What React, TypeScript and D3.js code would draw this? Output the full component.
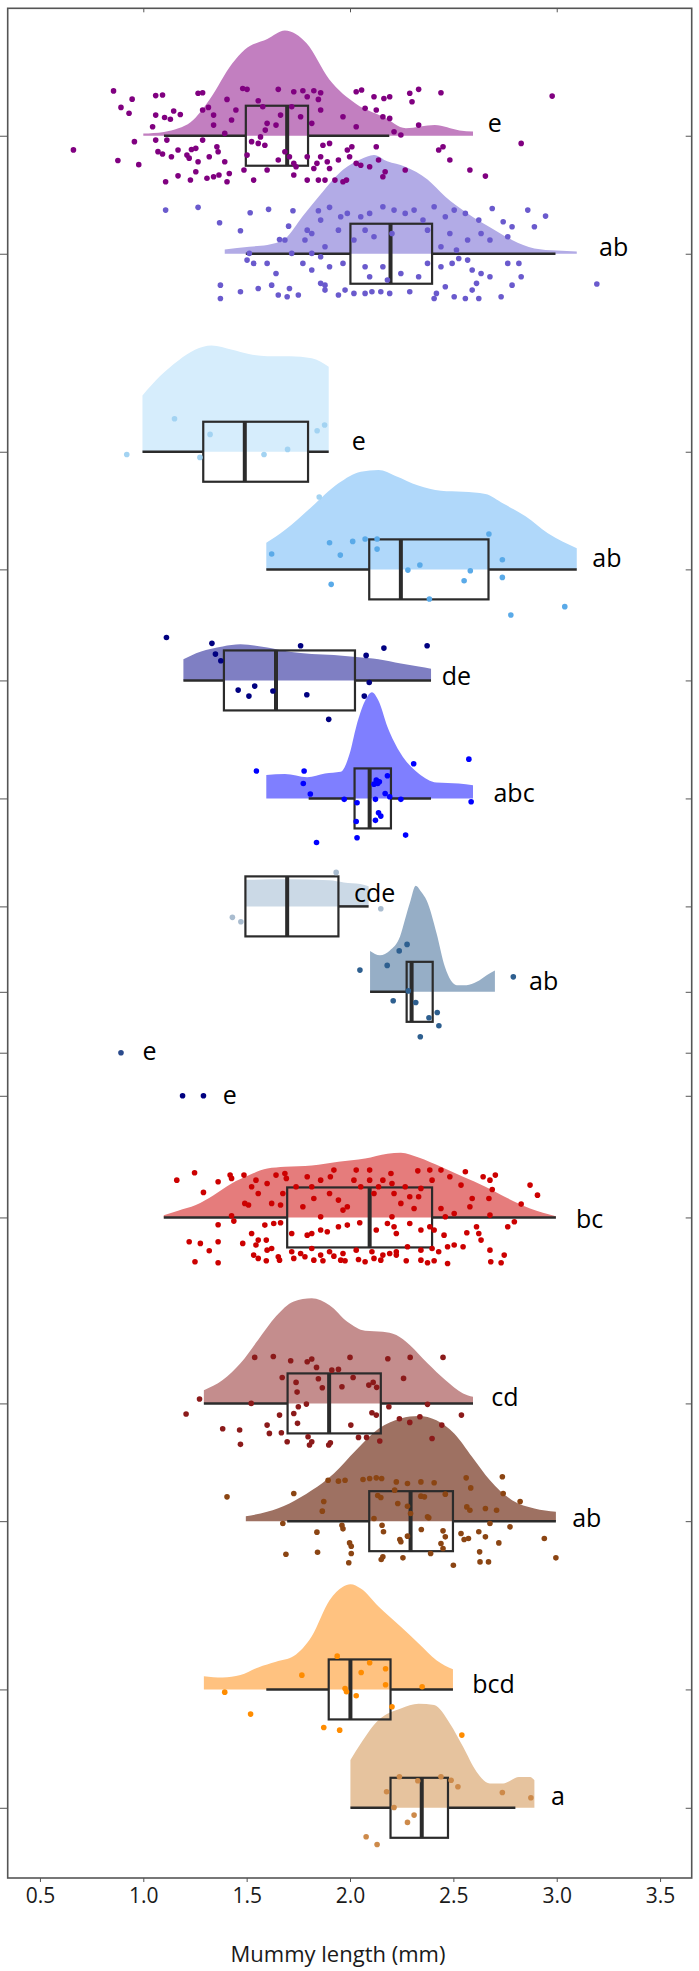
import * as d3 from "d3";
import { useEffect, useRef } from "react";

// group baselines on the (unlabelled) y axis, top to bottom
const groupPos = [0, 1.0, 2.678, 3.675, 4.616, 5.616, 6.531, 7.255, 7.771, 8.136, 9.167, 10.743, 11.741, 13.167, 14.17];
const groupLetters = ["e", "ab", "e", "ab", "de", "abc", "cde", "ab", "e", "e", "bc", "cd", "ab", "bcd", "a"];
const letterX = [2.666, 3.205, 2.009, 3.172, 2.444, 2.694, 2.019, 2.866, 0.996, 1.384, 3.093, 2.683, 3.075, 2.591, 2.972];
const letterDy = [-0.119, -0.065, -0.099, -0.102, -0.045, -0.057, -0.125, -0.099, -0.023, -0.012, 0.008, -0.062, -0.036, -0.057, -0.108];

const cloudColors = ["#c27fc0", "#b2abe6", "#d6edfc", "#b0d8fa", "#7f7fc3", "#7f7fff", "#cbd9e6", "#96aec6", "none", "none", "#e57c7c", "#c48d8d", "#9e7162", "#ffc280", "#e6c39e"];
const dotColors = ["#800080", "#6a5acd", "#a3d3f2", "#5aaae8", "#000080", "#0000ff", "#a9bccf", "#2e5f8f", "#2a4a8c", "#000080", "#cc0000", "#8b1a1a", "#8b4513", "#ff8c00", "#cd8a4a"];

// box stats: q1, median, q3, lower whisker, upper whisker
const q1s = [1.496, 2.002, 1.29, 2.093, 1.39, 2.022, 1.494, 2.274, NaN, NaN, 1.696, 1.698, 2.093, 1.897, 2.196];
const medians = [1.696, 2.196, 1.491, 2.246, 1.642, 2.095, 1.696, 2.298, NaN, NaN, 2.095, 1.899, 2.293, 2.002, 2.347];
const q3s = [1.797, 2.397, 1.797, 2.67, 2.024, 2.198, 1.944, 2.4, NaN, NaN, 2.397, 2.149, 2.498, 2.196, 2.474];
const whiskLo = [1.1, 1.496, 0.996, 1.595, 1.194, 1.8, 1.494, 2.097, NaN, NaN, 1.099, 1.293, 1.696, 1.595, 2.002];
const whiskHi = [2.19, 2.994, 1.897, 3.097, 2.392, 2.392, 2.09, 2.4, NaN, NaN, 2.996, 2.595, 2.996, 2.498, 2.8];

// half-violin densities: [length, relative density]
const dens1 = [[1.0, 0.02], [1.1, 0.035], [1.17, 0.07], [1.23, 0.13], [1.32, 0.34], [1.43, 0.68], [1.49, 0.81], [1.6, 0.91], [1.685, 0.99], [1.79, 0.87], [1.9, 0.53], [2.03, 0.3], [2.16, 0.18], [2.27, 0.07], [2.41, 0.1], [2.53, 0.05], [2.595, 0.04]];
const dens2 = [[1.394, 0.04], [1.513, 0.066], [1.6, 0.082], [1.685, 0.14], [1.77, 0.35], [1.858, 0.56], [1.966, 0.79], [2.052, 0.89], [2.116, 0.93], [2.18, 0.87], [2.267, 0.82], [2.375, 0.7], [2.46, 0.54], [2.569, 0.38], [2.677, 0.25], [2.784, 0.13], [2.892, 0.05], [3.0, 0.03], [3.097, 0.02]];
const dens3 = [[0.996, 0.53], [1.08, 0.71], [1.17, 0.86], [1.25, 0.96], [1.33, 1.0], [1.43, 0.96], [1.51, 0.92], [1.6, 0.9], [1.71, 0.9], [1.815, 0.88], [1.897, 0.8]];
const dens4 = [[1.595, 0.25], [1.685, 0.37], [1.815, 0.59], [1.944, 0.81], [2.052, 0.92], [2.138, 0.935], [2.22, 0.88], [2.33, 0.79], [2.44, 0.74], [2.547, 0.73], [2.655, 0.71], [2.741, 0.62], [2.849, 0.5], [2.957, 0.34], [3.03, 0.26], [3.097, 0.2]];
const dens5 = [[1.194, 0.2], [1.276, 0.27], [1.384, 0.32], [1.47, 0.34], [1.6, 0.31], [1.707, 0.27], [1.815, 0.25], [1.922, 0.24], [2.03, 0.22], [2.138, 0.2], [2.246, 0.16], [2.332, 0.13], [2.392, 0.11]];
const dens6 = [[1.595, 0.22], [1.685, 0.23], [1.793, 0.2], [1.879, 0.235], [1.955, 0.25], [1.998, 0.42], [2.03, 0.675], [2.073, 0.92], [2.106, 1.0], [2.138, 0.92], [2.181, 0.675], [2.246, 0.42], [2.332, 0.235], [2.418, 0.15], [2.526, 0.14], [2.595, 0.125]];
const dens7 = [[1.494, 0.25], [1.7, 0.255], [1.9, 0.245], [1.97, 0.225], [2.05, 0.21], [2.09, 0.19]];
const dens8 = [[2.097, 0.385], [2.145, 0.345], [2.193, 0.39], [2.242, 0.52], [2.266, 0.68], [2.29, 0.84], [2.318, 1.0], [2.345, 0.94], [2.371, 0.86], [2.419, 0.55], [2.459, 0.235], [2.516, 0.063], [2.564, 0.063], [2.613, 0.094], [2.661, 0.157], [2.701, 0.2]];
const dens11 = [[1.099, 0.02], [1.168, 0.063], [1.254, 0.116], [1.34, 0.21], [1.427, 0.32], [1.513, 0.4], [1.6, 0.46], [1.685, 0.477], [1.815, 0.49], [1.944, 0.525], [2.073, 0.555], [2.181, 0.6], [2.246, 0.61], [2.332, 0.565], [2.44, 0.477], [2.547, 0.383], [2.655, 0.29], [2.763, 0.18], [2.871, 0.085], [2.996, 0.012]];
const dens12 = [[1.293, 0.125], [1.384, 0.22], [1.47, 0.377], [1.556, 0.6], [1.642, 0.82], [1.728, 0.96], [1.815, 0.99], [1.901, 0.925], [1.987, 0.77], [2.073, 0.685], [2.159, 0.675], [2.224, 0.643], [2.289, 0.55], [2.375, 0.377], [2.461, 0.22], [2.547, 0.094], [2.595, 0.063]];
const dens13 = [[1.496, 0.047], [1.599, 0.088], [1.707, 0.167], [1.815, 0.29], [1.922, 0.45], [2.03, 0.67], [2.138, 0.87], [2.246, 0.967], [2.332, 0.99], [2.418, 0.95], [2.504, 0.826], [2.591, 0.605], [2.677, 0.386], [2.784, 0.198], [2.892, 0.12], [2.996, 0.088]];
const dens14 = [[1.293, 0.125], [1.384, 0.113], [1.47, 0.135], [1.556, 0.207], [1.642, 0.26], [1.728, 0.314], [1.815, 0.5], [1.901, 0.84], [1.966, 0.967], [2.002, 0.99], [2.052, 0.95], [2.138, 0.78], [2.246, 0.59], [2.332, 0.433], [2.418, 0.276], [2.498, 0.19]];
const dens15 = [[2.002, 0.45], [2.052, 0.605], [2.138, 0.826], [2.246, 0.935], [2.332, 0.98], [2.407, 0.967], [2.483, 0.794], [2.547, 0.574], [2.612, 0.34], [2.677, 0.229], [2.741, 0.229], [2.817, 0.29], [2.871, 0.29], [2.892, 0.26]];

// jittered raw points: [length, vertical jitter]
const pts1 = [[0.856, -0.38], [0.946, -0.31], [1.06, -0.34], [1.093, -0.345], [0.892, -0.24], [0.931, -0.19], [1.06, -0.175], [1.103, -0.155], [1.131, -0.14], [1.147, -0.21], [1.179, -0.18], [1.045, -0.076], [0.957, 0.05], [0.662, 0.12], [0.877, 0.21], [0.978, 0.245], [1.071, 0.135], [1.093, 0.155], [1.114, 0.037], [1.108, 0.39], [1.168, 0.34], [1.228, 0.375], [1.254, 0.305], [1.265, 0.22], [1.233, 0.116], [1.254, 0.107], [1.222, 0.19], [1.308, 0.36], [1.34, 0.347], [1.366, 0.333], [1.416, 0.32], [1.405, 0.39], [1.394, 0.22], [1.319, 0.178], [1.362, 0.136], [1.356, 0.093], [1.287, -0.218], [1.315, -0.24], [1.34, -0.175], [1.265, -0.36], [1.287, -0.364], [1.405, -0.308], [1.481, -0.4], [1.502, -0.393], [1.556, -0.297], [1.578, -0.246], [1.599, -0.105], [1.59, -0.048], [1.524, 0.05], [1.556, 0.065], [1.588, 0.08], [1.567, 0.01], [1.502, 0.164], [1.534, 0.376], [1.487, 0.29], [1.599, 0.29], [1.653, 0.206], [1.728, 0.333], [1.739, 0.263], [1.793, 0.376], [1.825, 0.277], [1.847, 0.376], [1.879, 0.376], [1.901, 0.277], [1.927, 0.376], [1.966, 0.39], [1.983, 0.376], [1.858, 0.178], [1.84, 0.234], [1.869, 0.08], [1.89, 0.22], [1.944, 0.206], [1.998, 0.178], [2.03, 0.234], [2.052, 0.25], [2.095, 0.263], [2.159, 0.347], [2.17, 0.305], [2.267, 0.29], [1.653, -0.393], [1.728, -0.373], [1.772, -0.381], [1.793, -0.33], [1.825, -0.381], [1.858, -0.364], [1.847, -0.308], [2.03, -0.373], [2.056, -0.387], [2.116, -0.33], [2.164, -0.316], [2.192, -0.33], [2.289, -0.36], [2.332, -0.393], [2.44, -0.364], [2.3, -0.288], [2.978, -0.336], [1.718, -0.246], [1.761, -0.161], [1.664, -0.175], [1.642, -0.09], [1.858, -0.218], [1.815, -0.105], [1.966, -0.161], [2.03, -0.076], [2.073, -0.232], [2.127, -0.218], [2.159, -0.161], [2.192, -0.147], [2.213, -0.034], [2.246, -0.006], [2.332, -0.09], [2.828, 0.065], [2.429, 0.121], [2.45, 0.093], [2.483, 0.206], [2.58, 0.29], [2.655, 0.342], [2.127, 0.093], [2.138, 0.206], [2.009, 0.093], [1.987, 0.121], [1.901, 0.065], [1.685, 0.136], [1.707, 0.178], [1.728, 0.234], [1.793, 0.178], [1.394, -0.02], [1.448, -0.218], [1.427, -0.133], [1.34, -0.09], [1.287, 0.037], [1.211, 0.164], [1.168, 0.121], [1.136, 0.178], [1.06, 0.037]];
const pts2 = [[1.108, -0.37], [1.265, -0.393], [1.369, -0.263], [1.47, -0.195], [1.517, -0.347], [1.606, -0.376], [1.724, -0.364], [1.703, -0.234], [1.659, -0.121], [1.685, -0.116], [1.782, -0.116], [1.793, -0.2], [1.847, -0.364], [1.901, -0.393], [1.955, -0.314], [1.858, -0.285], [1.815, -0.172], [1.944, -0.2], [1.987, -0.342], [2.052, -0.314], [2.095, -0.342], [2.159, -0.398], [2.213, -0.37], [2.267, -0.342], [2.31, -0.37], [2.353, -0.285], [2.407, -0.398], [2.461, -0.314], [2.504, -0.37], [2.558, -0.342], [2.623, -0.285], [2.688, -0.384], [2.741, -0.271], [2.784, -0.229], [2.86, -0.37], [2.892, -0.229], [2.946, -0.319], [2.763, -0.144], [2.677, -0.116], [2.634, -0.172], [2.569, -0.116], [2.483, -0.172], [2.44, -0.059], [2.515, -0.031], [2.375, -0.2], [2.203, -0.172], [2.116, -0.144], [2.073, -0.2], [2.019, -0.116], [1.879, -0.059], [1.815, -0.003], [1.513, -0.003], [1.534, 0.082], [1.599, 0.082], [1.642, 0.167], [1.718, -0.003], [1.772, 0.082], [1.815, 0.138], [1.858, 0.025], [1.901, 0.11], [1.966, 0.082], [2.073, 0.11], [2.095, 0.195], [2.159, 0.11], [2.181, 0.223], [2.246, 0.167], [2.332, 0.195], [2.375, 0.082], [2.44, 0.11], [2.494, 0.082], [2.526, 0.04], [2.569, 0.054], [2.591, 0.138], [2.634, 0.167], [2.677, 0.195], [2.763, 0.082], [2.817, 0.082], [2.828, 0.195], [2.784, 0.266], [2.612, 0.251], [2.591, 0.308], [2.461, 0.28], [2.418, 0.336], [2.504, 0.364], [2.558, 0.379], [2.623, 0.379], [2.731, 0.364], [3.194, 0.257], [1.373, 0.266], [1.373, 0.379], [1.47, 0.322], [1.556, 0.294], [1.621, 0.266], [1.707, 0.294], [1.653, 0.35], [1.696, 0.364], [1.75, 0.35], [1.858, 0.251], [1.879, 0.266], [1.944, 0.35], [1.976, 0.308], [2.019, 0.336], [2.073, 0.336], [2.106, 0.322], [2.149, 0.322], [2.192, 0.336], [2.289, 0.322], [2.407, 0.379], [1.879, 0.308], [1.502, 0.054]];
const pts3 = [[1.151, -0.28], [0.92, 0.023], [1.323, -0.147], [1.274, 0.048], [1.584, 0.023], [1.698, -0.02], [1.841, -0.178], [1.877, -0.226], [1.851, 0.384]];
const pts4 = [[1.621, -0.13], [1.901, -0.226], [1.953, -0.121], [2.013, -0.237], [2.073, -0.257], [2.131, -0.257], [2.131, -0.172], [1.909, 0.127], [2.28, 0.006], [2.338, -0.037], [2.582, 0.011], [2.672, -0.3], [2.737, -0.082], [2.737, 0.068], [2.552, 0.096], [2.384, 0.251], [2.778, 0.387], [3.039, 0.316]];
const pts5 = [[1.112, -0.364], [1.332, -0.314], [1.349, -0.223], [1.375, -0.167], [1.761, -0.294], [2.164, -0.274], [2.373, -0.294], [2.078, -0.212], [2.093, 0.017], [1.459, 0.082], [1.539, 0.048], [1.511, 0.133], [1.627, 0.09], [1.791, 0.121], [2.069, 0.133], [1.897, 0.33]];
const pts6 = [[1.547, -0.232], [1.778, -0.232], [1.774, -0.127], [1.808, -0.037], [1.972, 0.008], [2.034, 0.037], [2.123, 0.008], [2.127, -0.155], [2.134, -0.127], [2.142, -0.141], [2.116, -0.121], [2.181, -0.192], [2.17, -0.042], [2.192, -0.014], [2.246, 0.008], [2.308, -0.294], [2.575, -0.333], [2.586, 0.028], [2.138, 0.121], [2.149, 0.15], [2.123, 0.186], [2.03, 0.195], [1.838, 0.373], [2.034, 0.333], [2.269, 0.311]];
const pts7 = [[1.933, -0.288], [1.431, 0.093], [1.472, 0.13], [2.149, 0.02]];
const pts8 = [[2.048, -0.184], [2.18, -0.224], [2.238, -0.347], [2.276, -0.402], [2.209, 0.076], [2.318, 0.09], [2.422, 0.175], [2.382, 0.22], [2.43, 0.288], [2.34, 0.381], [2.79, -0.127], [2.282, -0.008]];
const pts9 = [[0.892, 0]];
const pts10 = [[1.19, 0], [1.291, 0]];
const pts11 = [[1.162, -0.316], [1.248, -0.379], [1.291, -0.212], [1.362, -0.302], [1.42, -0.359], [1.427, -0.331], [1.487, -0.359], [1.524, -0.26], [1.491, -0.119], [1.509, -0.105], [1.545, -0.316], [1.599, -0.288], [1.642, -0.359], [1.685, -0.373], [1.692, -0.331], [1.675, -0.203], [1.664, -0.105], [1.739, -0.26], [1.793, -0.345], [1.815, -0.26], [1.858, -0.316], [1.905, -0.345], [1.922, -0.401], [1.901, -0.203], [1.944, -0.147], [1.966, -0.062], [1.987, -0.09], [2.019, -0.316], [2.03, -0.401], [2.052, -0.26], [2.095, -0.401], [2.095, -0.316], [2.116, -0.203], [2.138, -0.26], [2.159, -0.316], [2.198, -0.373], [2.203, -0.288], [2.213, -0.203], [2.246, -0.119], [2.267, -0.26], [2.289, -0.175], [2.31, -0.076], [2.332, -0.175], [2.343, -0.246], [2.328, -0.395], [2.386, -0.401], [2.397, -0.316], [2.44, -0.401], [2.44, -0.076], [2.483, -0.345], [2.504, -0.034], [2.537, -0.274], [2.558, -0.387], [2.58, -0.09], [2.591, -0.161], [2.644, -0.345], [2.677, -0.316], [2.672, -0.161], [2.688, -0.237], [2.703, -0.359], [2.828, -0.113], [2.871, -0.274], [2.907, -0.189], [2.677, -0.02], [2.461, -0.006], [2.203, -0.006], [1.858, -0.006], [1.427, -0.014], [1.621, -0.119], [1.772, -0.09], [1.556, -0.203], [1.825, -0.161], [1.362, 0.062], [1.438, 0.031], [1.588, 0.065], [1.631, 0.051], [1.664, 0.045], [1.718, 0.136], [1.793, 0.15], [1.815, 0.136], [1.858, 0.107], [1.89, 0.121], [1.944, 0.079], [1.987, 0.065], [2.047, 0.045], [2.127, 0.107], [2.181, 0.051], [2.213, 0.079], [2.224, 0.136], [2.289, 0.051], [2.343, 0.107], [2.386, 0.079], [2.407, 0.107], [2.455, 0.15], [2.565, 0.13], [2.612, 0.079], [2.623, 0.136], [2.634, 0.192], [2.763, 0.079], [2.795, 0.037], [2.547, 0.249], [2.504, 0.234], [2.472, 0.249], [2.429, 0.291], [2.397, 0.263], [2.343, 0.277], [2.278, 0.249], [2.224, 0.291], [2.192, 0.305], [2.159, 0.319], [2.106, 0.291], [2.03, 0.277], [1.966, 0.305], [1.901, 0.291], [1.858, 0.319], [1.815, 0.263], [1.761, 0.305], [1.718, 0.291], [1.653, 0.333], [1.599, 0.277], [1.556, 0.192], [1.545, 0.234], [1.524, 0.136], [1.481, 0.22], [1.362, 0.206], [1.319, 0.282], [1.276, 0.22], [1.222, 0.206], [1.25, 0.376], [1.362, 0.384], [1.534, 0.319], [1.556, 0.347], [1.595, 0.367], [1.659, 0.362], [1.728, 0.347], [1.782, 0.333], [1.825, 0.362], [1.869, 0.367], [1.922, 0.328], [1.955, 0.362], [1.976, 0.367], [2.041, 0.356], [2.073, 0.376], [2.116, 0.347], [2.149, 0.362], [2.224, 0.319], [2.272, 0.367], [2.343, 0.362], [2.375, 0.384], [2.407, 0.367], [2.472, 0.39], [2.681, 0.376], [2.731, 0.384], [2.746, 0.319], [2.677, 0.277], [1.595, 0.192], [1.621, 0.263]];
const pts12 = [[1.539, -0.39], [1.629, -0.398], [1.713, -0.362], [1.793, -0.353], [1.815, -0.376], [1.838, -0.305], [1.912, -0.282], [1.944, -0.288], [2.0, -0.39], [2.183, -0.379], [2.291, -0.39], [2.45, -0.39], [1.672, -0.22], [1.739, -0.178], [1.744, -0.096], [1.847, -0.209], [1.866, -0.133], [1.961, -0.141], [2.015, -0.22], [2.091, -0.155], [2.112, -0.178], [2.129, -0.136], [2.259, -0.212], [1.272, -0.037], [1.522, 0.0], [1.207, 0.09], [1.384, 0.215], [1.466, 0.226], [1.47, 0.347], [1.599, 0.184], [1.61, 0.254], [1.659, 0.099], [1.668, 0.249], [1.696, 0.325], [1.728, 0.085], [1.75, 0.028], [1.746, 0.169], [1.789, 0.006], [1.797, 0.282], [1.815, 0.325], [1.804, 0.353], [1.897, 0.353], [1.905, 0.333], [2.004, 0.184], [2.041, 0.288], [2.08, 0.288], [2.106, 0.079], [2.127, 0.099], [2.144, 0.319], [2.188, 0.028], [2.375, 0.008], [2.444, 0.184], [2.397, 0.297], [2.539, 0.099], [2.239, 0.13], [2.289, 0.161], [2.338, 0.113]];
const pts13 = [[1.405, -0.206], [1.728, -0.234], [1.894, -0.347], [1.944, -0.339], [1.976, -0.347], [2.063, -0.353], [2.095, -0.362], [2.127, -0.367], [2.153, -0.362], [2.224, -0.333], [2.278, -0.319], [2.343, -0.333], [2.407, -0.325], [2.562, -0.367], [2.584, -0.282], [2.737, -0.376], [2.741, -0.234], [2.823, -0.167], [1.873, -0.167], [1.866, -0.085], [2.134, -0.218], [2.149, -0.201], [2.216, -0.263], [2.231, -0.15], [2.278, -0.127], [2.293, -0.065], [2.343, -0.212], [2.36, -0.206], [2.375, -0.037], [2.381, -0.028], [2.461, -0.229], [2.565, -0.121], [2.58, -0.093], [2.655, -0.107], [2.709, -0.093], [1.675, 0.02], [1.84, 0.093], [1.961, 0.034], [1.966, 0.065], [1.998, 0.184], [2.006, 0.212], [2.155, 0.034], [2.162, 0.09], [2.241, 0.155], [2.278, 0.127], [2.345, 0.071], [2.461, 0.133], [2.45, 0.082], [2.537, 0.105], [2.552, 0.155], [2.573, 0.147], [2.623, 0.09], [2.655, 0.133], [2.677, 0.02], [2.774, 0.048], [2.94, 0.147], [2.996, 0.311], [1.69, 0.28], [1.843, 0.263], [2.006, 0.274], [1.994, 0.353], [2.159, 0.302], [2.151, 0.325], [2.256, 0.311], [2.39, 0.274], [2.45, 0.232], [2.5, 0.373], [2.627, 0.26], [2.629, 0.345], [2.67, 0.345], [2.72, 0.184], [2.44, 0.189], [2.246, 0.175], [2.116, -0.023]];
const pts14 = [[1.394, 0.023], [1.519, 0.209], [1.767, -0.121], [1.873, 0.322], [1.95, 0.345], [1.938, -0.282], [1.976, -0.008], [1.983, 0.02], [2.03, 0.054], [2.054, -0.144], [2.095, -0.226], [2.172, -0.175], [2.172, -0.04], [2.203, 0.147], [2.349, -0.023], [2.541, 0.387]];
const pts15 = [[2.239, -0.263], [2.328, -0.229], [2.44, -0.263], [2.489, -0.234], [2.522, -0.178], [2.737, -0.13], [2.875, -0.085], [2.177, -0.136], [2.213, -0.003], [2.31, 0.062], [2.278, 0.124], [2.078, 0.246], [2.131, 0.311]];

const densities = [dens1, dens2, dens3, dens4, dens5, dens6, dens7, dens8, [], [], dens11, dens12, dens13, dens14, dens15];
const points = [pts1, pts2, pts3, pts4, pts5, pts6, pts7, pts8, pts9, pts10, pts11, pts12, pts13, pts14, pts15];
const xTicks = [0.5, 1.0, 1.5, 2.0, 2.5, 3.0, 3.5];

const W = 699;
const H = 1971;
const plotLeft = 7.7;
const plotRight = 691.7;
const plotTop = 8.3;
const plotBottom = 1878;
const cloudHeight = 0.9; // y units for a relative density of 1
const boxHalf = 30;
const font = "'Open Sans', 'Noto Sans', sans-serif";

export default function App() {
    const svgRef = useRef<SVGSVGElement>(null);

    useEffect(() => {
        if (svgRef.current) drawChart();
    }, []);

    const drawChart = () => {
        const svg = d3.select(svgRef.current);
        svg.selectAll("*").remove();

        const x = d3.scaleLinear().domain([0.344, 3.653]).range([plotLeft, plotRight]);
        const y = d3.scaleLinear().domain([-1.08, 14.765]).range([plotTop, plotBottom]);

        svg.append("rect").attr("width", W).attr("height", H).attr("fill", "#ffffff");

        // clouds
        const cloud = svg.append("g").classed("clouds", true);
        densities.forEach((dens, i) => {
            if (!dens.length) return;
            const base = groupPos[i];
            const area = d3
                .area<number[]>()
                .x((d) => x(d[0]))
                .y0(y(base))
                .y1((d) => y(base - d[1] * cloudHeight))
                .curve(d3.curveMonotoneX);
            cloud.append("path").attr("d", area(dens) as string).attr("fill", cloudColors[i]);
        });

        // boxes and whiskers
        const boxes = svg.append("g").classed("boxes", true).attr("stroke", "#2b2b2b").attr("fill", "none");
        groupPos.forEach((base, i) => {
            if (isNaN(q1s[i])) return;
            const yb = y(base);
            boxes.append("line").attr("x1", x(whiskLo[i])).attr("x2", x(q1s[i])).attr("y1", yb).attr("y2", yb).attr("stroke-width", 2.5);
            boxes.append("line").attr("x1", x(q3s[i])).attr("x2", x(whiskHi[i])).attr("y1", yb).attr("y2", yb).attr("stroke-width", 2.5);
            boxes
                .append("rect")
                .attr("x", x(q1s[i]))
                .attr("y", yb - boxHalf)
                .attr("width", x(q3s[i]) - x(q1s[i]))
                .attr("height", boxHalf * 2)
                .attr("stroke-width", 2.2);
            boxes
                .append("line")
                .attr("x1", x(medians[i]))
                .attr("x2", x(medians[i]))
                .attr("y1", yb - boxHalf)
                .attr("y2", yb + boxHalf)
                .attr("stroke-width", 4);
        });

        // rain
        const rain = svg.append("g").classed("rain", true);
        points.forEach((pts, i) => {
            rain.selectAll(null)
                .data(pts)
                .enter()
                .append("circle")
                .attr("cx", (d) => x(d[0]))
                .attr("cy", (d) => y(groupPos[i] + d[1]))
                .attr("r", 2.8)
                .attr("fill", dotColors[i]);
        });

        // significance letters
        svg.append("g")
            .selectAll("text")
            .data(groupLetters)
            .enter()
            .append("text")
            .attr("x", (d, i) => x(letterX[i]))
            .attr("y", (d, i) => y(groupPos[i] + letterDy[i]))
            .attr("dominant-baseline", "central")
            .attr("font-family", font)
            .attr("font-size", 25)
            .attr("fill", "#000000")
            .text((d) => d);

        // frame and ticks
        svg.append("rect")
            .attr("x", plotLeft)
            .attr("y", plotTop)
            .attr("width", plotRight - plotLeft)
            .attr("height", plotBottom - plotTop)
            .attr("fill", "none")
            .attr("stroke", "#555555")
            .attr("stroke-width", 1.6);

        const bottom = svg
            .append("g")
            .attr("transform", "translate(0," + plotBottom + ")")
            .call(d3.axisBottom(x).tickValues(xTicks).tickSize(4).tickPadding(6).tickFormat(d3.format(".1f")));
        bottom.select(".domain").remove();
        bottom.selectAll("line").attr("stroke", "#555555");
        bottom.selectAll("text").attr("font-family", font).attr("font-size", 21).attr("fill", "#1a1a1a");

        const top = svg
            .append("g")
            .attr("transform", "translate(0," + plotTop + ")")
            .call(d3.axisTop(x).tickValues([1, 2, 3]).tickSize(-4).tickFormat(() => ""));
        top.select(".domain").remove();
        top.selectAll("line").attr("stroke", "#555555");

        const left = svg
            .append("g")
            .attr("transform", "translate(" + plotLeft + ",0)")
            .call(d3.axisLeft(y).tickValues(groupPos).tickSize(8).tickFormat(() => ""));
        left.select(".domain").remove();
        left.selectAll("line").attr("stroke", "#555555");

        const right = svg
            .append("g")
            .attr("transform", "translate(" + plotRight + ",0)")
            .call(d3.axisRight(y).tickValues(groupPos).tickSize(-6).tickFormat(() => ""));
        right.select(".domain").remove();
        right.selectAll("line").attr("stroke", "#555555");

        svg.append("text")
            .attr("x", 338)
            .attr("y", 1962)
            .attr("text-anchor", "middle")
            .attr("font-family", font)
            .attr("font-size", 22)
            .attr("fill", "#1a1a1a")
            .text("Mummy length (mm)");
    };

    return (
        <div style={{ position: "absolute", left: 0, top: 0 }}>
            <svg ref={svgRef} width={W} height={H} />
        </div>
    );
}
